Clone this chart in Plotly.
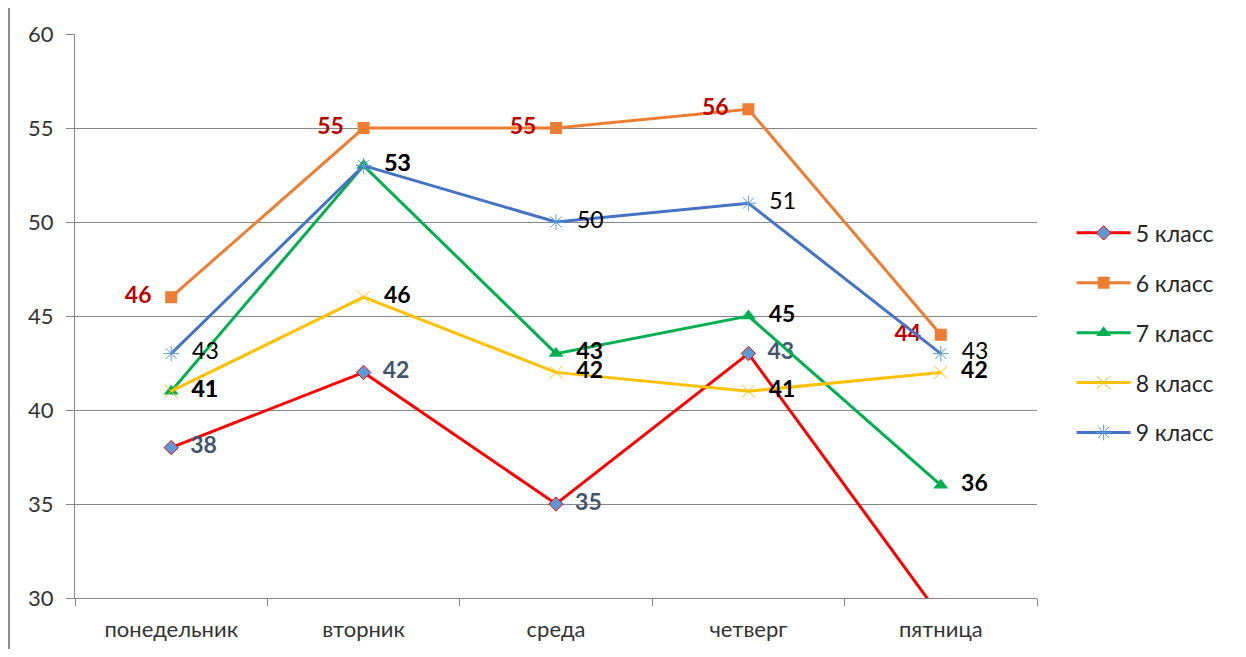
import plotly.graph_objects as go

days = ["понедельник", "вторник", "среда", "четверг", "пятница"]
series_names = ["5 класс", "6 класс", "7 класс", "8 класс", "9 класс"]
v5 = [38, 42, 35, 43, 29]
v6 = [46, 55, 55, 56, 44]
v7 = [41, 53, 43, 45, 36]
v8 = [41, 46, 42, 41, 42]
v9 = [43, 53, 50, 51, 43]

FONT = "Lato, Calibri, Arial, sans-serif"

styles = [
    dict(line="#FF0000", marker=dict(symbol="diamond", size=11, color="#5B9BD5", line=dict(color="#FF0000", width=1)),
         pos="middle right", tcolor="#44546A", weight="bold"),
    dict(line="#ED7D31", marker=dict(symbol="square", size=12, color="#ED7D31"),
         pos="middle left", tcolor="#C00000", weight="bold"),
    dict(line="#00B050", marker=dict(symbol="triangle-up", size=13, color="#00B050"),
         pos="middle right", tcolor="#000000", weight="bold"),
    dict(line="#FFC000", marker=dict(symbol="x-thin-open", size=13, color="#FFC000", line=dict(color="#FFC000", width=1)),
         pos="middle right", tcolor="#000000", weight="bold"),
    dict(line="#4472C4", marker=dict(symbol="asterisk-open", size=13, color="#5B9BD5", line=dict(color="#5B9BD5", width=1)),
         pos="middle right", tcolor="#000000", weight="normal"),
]

fig = go.Figure()
for name, vals, st in zip(series_names, [v5, v6, v7, v8, v9], styles):
    fig.add_trace(go.Scatter(
        x=days, y=vals, name=name, mode="lines+markers+text",
        line=dict(color=st["line"], width=3),
        marker=st["marker"],
        text=[f"  {v}  " for v in vals],
        textposition=st["pos"],
        textfont=dict(family=FONT, size=23, color=st["tcolor"], weight=st["weight"]),
        legendgroup=name,
        cliponaxis=True,
    ))

fig.update_layout(
    width=1238, height=641,
    margin=dict(l=67, r=209, t=26, b=51, autoexpand=False),
    paper_bgcolor="white", plot_bgcolor="white",
    font=dict(family=FONT, size=22, color="#333333"),
    showlegend=True,
    legend=dict(x=1.036, y=0.47, xanchor="left", yanchor="middle",
                font=dict(family=FONT, size=23, color="#262626"),
                itemwidth=54,
                tracegroupgap=17, bgcolor="rgba(0,0,0,0)"),
    xaxis=dict(type="category", tickson="boundaries", showgrid=False,
               showline=True, linecolor="#868686", linewidth=1,
               ticks="outside", ticklen=7, tickcolor="#868686", ticklabelstandoff=12,
               tickfont=dict(size=22, color="#333333"), range=[-0.5, 4.5]),
    yaxis=dict(range=[30, 60], dtick=5, showgrid=True, gridcolor="#868686", gridwidth=1,
               showline=True, linecolor="#868686", linewidth=1,
               ticks="outside", ticklen=8, tickcolor="#868686", ticklabelstandoff=8,
               tickfont=dict(size=22, color="#333333"), zeroline=False),
)

fig.add_shape(type="line", xref="paper", yref="paper", x0=-0.0686, x1=-0.0686, y0=-0.2, y1=1.2,
              line=dict(color="#8C8C8C", width=2))
fig.add_shape(type="line", xref="paper", yref="paper", x0=1.2147, x1=1.2147, y0=-0.2, y1=1.2,
              line=dict(color="#8C8C8C", width=2))

fig.write_html("out.html")
